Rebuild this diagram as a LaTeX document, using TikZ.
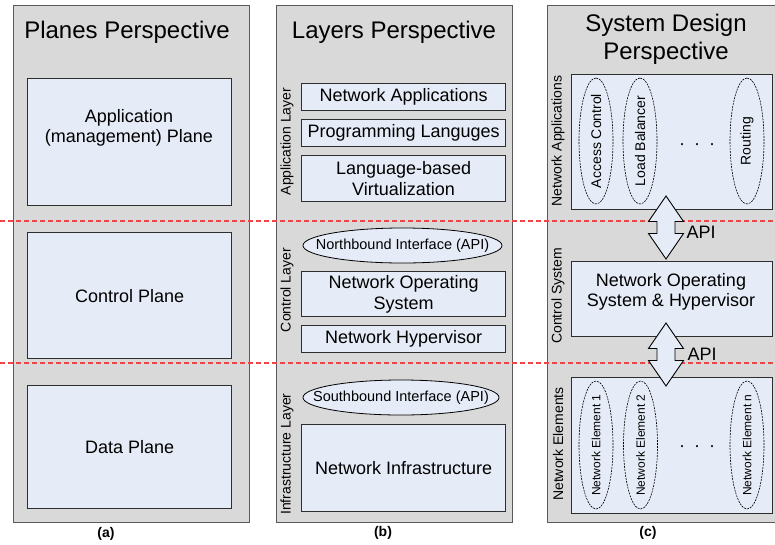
\documentclass[tikz,border=0pt]{standalone}
\usepackage{fontspec}
\setmainfont{Liberation Sans}
\usetikzlibrary{shapes.geometric}
\definecolor{panelgray}{HTML}{D9D9D9}
\definecolor{panelline}{HTML}{5A5A5A}
\definecolor{boxfill}{HTML}{E6ECF7}
\definecolor{boxline}{HTML}{2E2E2E}
\definecolor{sepred}{HTML}{EE4444}
\begin{document}
\begin{tikzpicture}[x=1pt,y=-1pt,
  panel/.style={draw=panelline, fill=panelgray, line width=1.4pt, inner sep=0pt, anchor=north west, minimum width=236pt, minimum height=517pt},
  box/.style={draw=boxline, fill=boxfill, line width=1.2pt, inner sep=0pt, anchor=north west, align=center, font=\fontsize{18}{20.5}\selectfont},
  plain/.style={inner sep=0pt, align=center, font=\fontsize{18}{20.5}\selectfont},
  title/.style={inner sep=0pt, align=center, font=\fontsize{24}{28}\selectfont},
  side/.style={inner sep=0pt, rotate=90, font=\fontsize{14}{16}\selectfont},
  iface/.style={ellipse, draw=black, fill=boxfill, line width=0.8pt, inner sep=0pt, font=\fontsize{14.5}{16}\selectfont},
  comp/.style={ellipse, draw=black, dashed, dash pattern=on 2pt off 1pt, line width=0.6pt, inner sep=0pt, rotate=90, minimum height=34pt},
  sep/.style={draw=sepred, line width=1.2pt, dash pattern=on 5pt off 3pt},
  apiarrow/.style={draw=black, fill=boxfill, line width=0.9pt, line join=miter},
  caption/.style={inner sep=0pt, font=\bfseries\fontsize{14}{16}\selectfont}]
\clip (0,0) rectangle (775,544);

% panels
\node[panel] (pa) at (13,5) {};
\node[panel] (pb) at (276,5) {};
\node[panel, minimum width=244pt] (pc) at (547,5) {};

% titles
\node[title] (ta) at (127,32) {Planes Perspective};
\node[title] (tb) at (394,32) {Layers Perspective};
\node[title] (tc) at (666,39) {System Design\\Perspective};

% (a) planes
\node[box, minimum width=204pt, minimum height=127pt] (app) at (27,78) {};
\node[plain] (apptxt) at (129,128) {Application\\(management) Plane};
\node[box, minimum width=204pt, minimum height=126pt] (ctl) at (27,232) {Control Plane};
\node[box, minimum width=204pt, minimum height=123pt] (data) at (27,385) {Data Plane};

% (b) layers
\node[box, minimum width=204pt, minimum height=27pt] (bna) at (301,83) {Network Applications};
\node[box, minimum width=204pt, minimum height=27pt] (bpl) at (301,119) {Programming Languges};
\node[box, minimum width=204pt, minimum height=46pt] (blv) at (301,155) {Language-based\\Virtualization};
\node[iface, minimum width=199pt, minimum height=35pt] (nb) at (402.5,245.5) {\makebox[0pt]{Northbound Interface (API)}};
\node[box, minimum width=204pt, minimum height=45pt] (nos) at (301,271) {Network Operating\\System};
\node[box, minimum width=204pt, minimum height=27pt] (hyp) at (301,325) {Network Hypervisor};
\node[iface, minimum width=196pt, minimum height=35pt] (sb) at (401,397.5) {\makebox[0pt]{Southbound Interface (API)}};
\node[box, minimum width=204pt, minimum height=87pt] (inf) at (301,424) {Network Infrastructure};

\node[side] (lapp) at (287,141.5) {Application Layer};
\node[side] (lctl) at (287,290) {Control Layer};
\node[side] (linf) at (287,454) {Infrastructure Layer};

% (c) system design
\node[box, minimum width=201pt, minimum height=135pt] (capp) at (571,74) {};
\node[box, minimum width=201pt, minimum height=75pt] (cctl) at (571,261) {};
\node[plain] (cctltxt) at (671,292) {Network Operating\\System \& Hypervisor};
\node[box, minimum width=201pt, minimum height=136pt] (cne) at (571,377) {};

\node[comp, minimum width=126pt, font=\fontsize{14}{16}\selectfont] (ac) at (596,141) {\makebox[0pt]{Access Control}};
\node[comp, minimum width=126pt, font=\fontsize{14}{16}\selectfont] (lb) at (640,141) {\makebox[0pt]{Load Balancer}};
\node[comp, minimum width=126pt, font=\fontsize{14}{16}\selectfont] (rt) at (747,141) {\makebox[0pt]{Routing}};
\node[plain] (dots1) at (697,147) {·\hspace{9pt}·\hspace{9pt}·};

\node[comp, minimum width=128pt, font=\fontsize{12}{14}\selectfont] (ne1) at (596,445) {\makebox[0pt]{Network Element 1}};
\node[comp, minimum width=128pt, font=\fontsize{12}{14}\selectfont] (ne2) at (640.5,445) {\makebox[0pt]{Network Element 2}};
\node[comp, minimum width=128pt, font=\fontsize{12}{14}\selectfont] (nen) at (747,445) {\makebox[0pt]{Network Element n}};
\node[plain] (dots2) at (697,449) {·\hspace{9pt}·\hspace{9pt}·};

\node[side] (cl1) at (558,141) {Network Applications};
\node[side] (cl2) at (558,296) {Control System};
\node[side] (cl3) at (558,444) {Network Elements};

% separators
\coordinate (s1l) at (0,221);
\coordinate (s1r) at (775,221);
\coordinate (s2l) at (0,363);
\coordinate (s2r) at (775,363);
\draw[sep] (s1l) -- (s1r);
\draw[sep] (s2l) -- (s2r);

% API arrows
\coordinate (ar1) at (666,227.5);
\coordinate (ar2) at (666,354.5);
\foreach \c in {ar1,ar2}{
  \draw[apiarrow] (\c) ++(0,-31.5) -- ++(17.5,25.5) -- ++(-8.5,0) -- ++(0,12) -- ++(8.5,0)
    -- ++(-17.5,25.5) -- ++(-17.5,-25.5) -- ++(8.5,0) -- ++(0,-12) -- ++(-8.5,0) -- cycle;
}
\node[plain] (api1) at (701,232) {API};
\node[plain] (api2) at (702,354) {API};

% captions
\node[caption] (capa) at (106,534) {(a)};
\node[caption] (capb) at (383,533) {(b)};
\node[caption] (capc) at (648,533) {(c)};
\end{tikzpicture}
\end{document}
